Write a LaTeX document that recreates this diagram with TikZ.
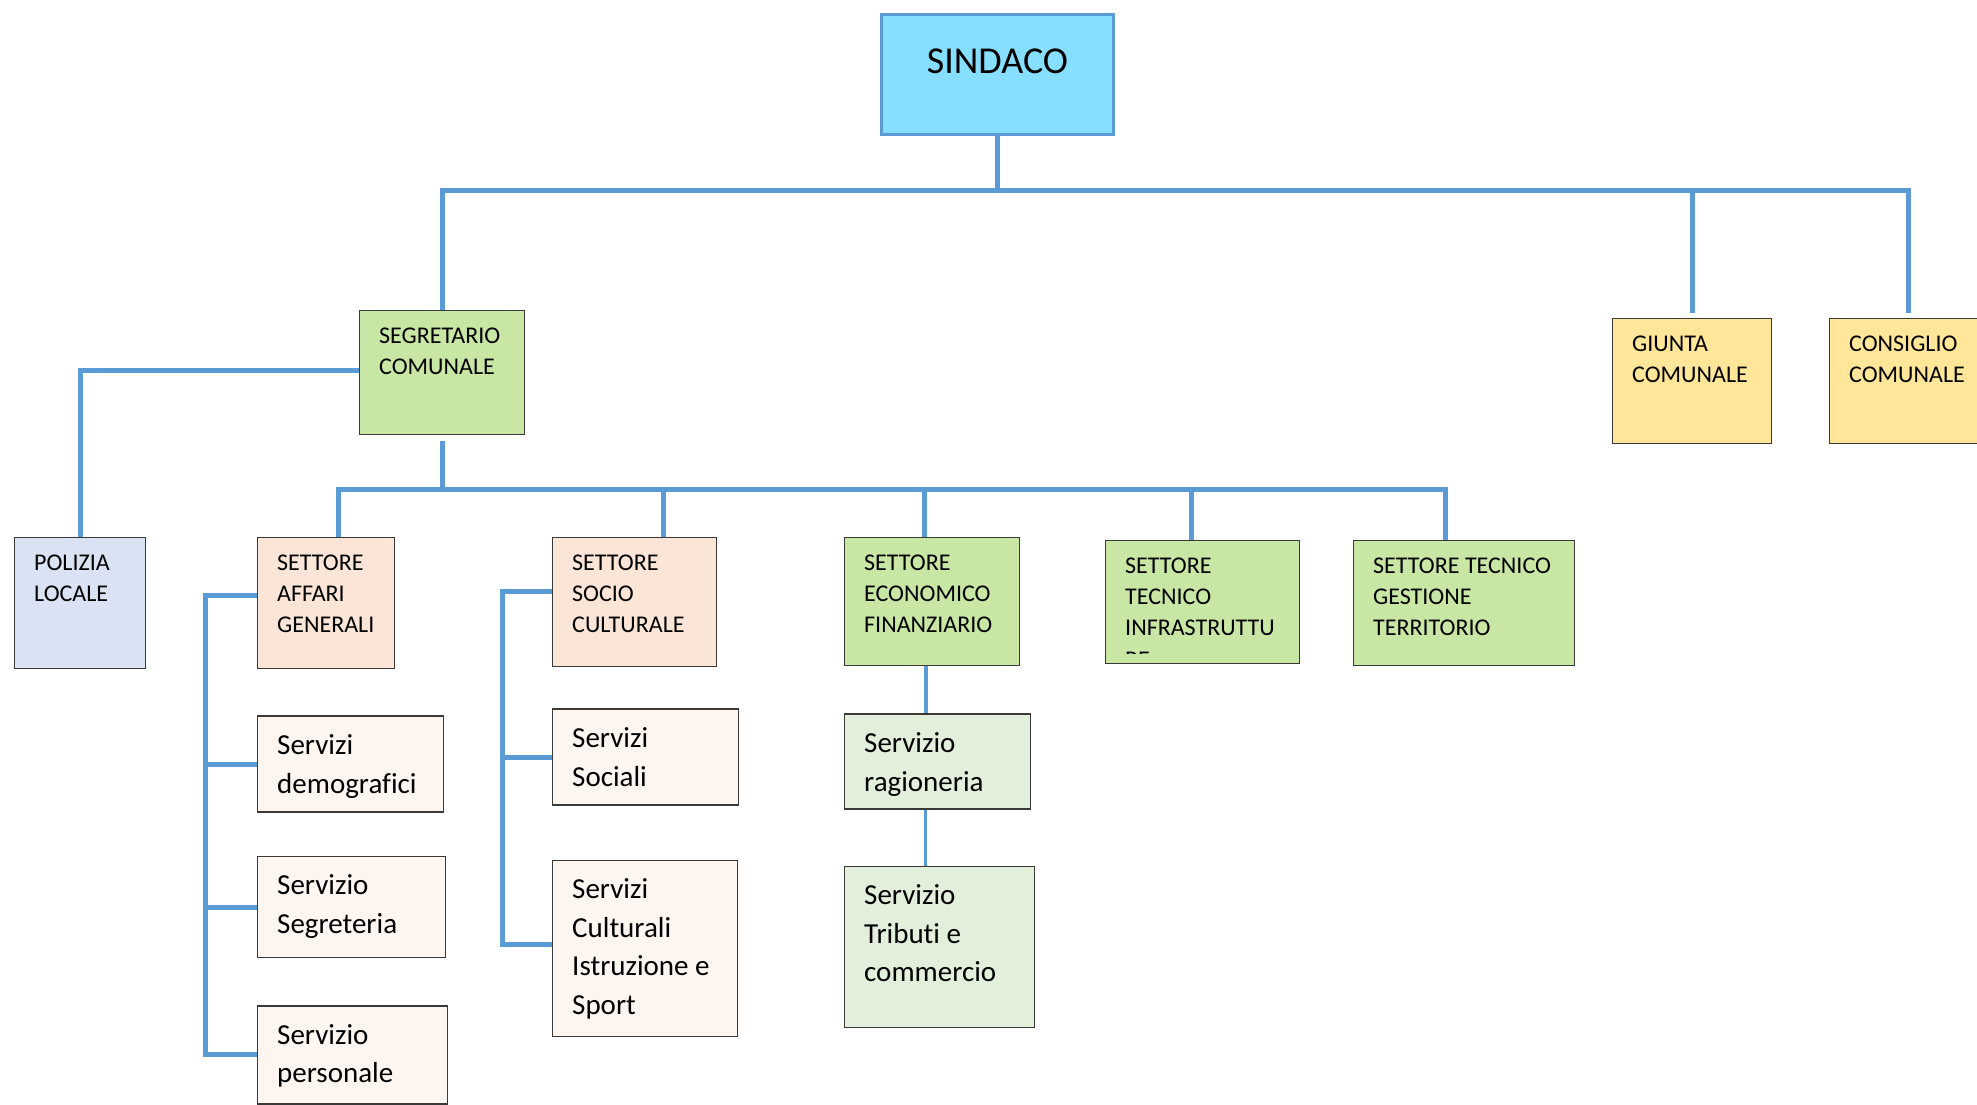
\documentclass[tikz,border=0pt]{standalone}
\usepackage{fontspec}
\setmainfont{Carlito}[Ligatures=NoCommon]
\usetikzlibrary{positioning}

\definecolor{linkblue}{HTML}{5B9BD5}
\definecolor{boxline}{HTML}{3A3A3A}
\definecolor{sindacofill}{HTML}{86DFFE}
\definecolor{settgreen}{HTML}{C8E6A4}
\definecolor{servgreen}{HTML}{E2EFDA}
\definecolor{settorange}{HTML}{FBE5D6}
\definecolor{servorange}{HTML}{FDF5EF}
\definecolor{polblue}{HTML}{DAE3F3}
\definecolor{organyellow}{HTML}{FFE699}

\begin{document}
\begin{tikzpicture}[x=1pt, y=-1pt,
    unit/.style={draw=boxline, line width=1.4pt, inner sep=0pt, anchor=north west},
    link/.style={draw=linkblue, line width=5pt},
    head/.style={font=\fontsize{24}{31}\selectfont, align=left, anchor=north west, inner xsep=20pt, inner ysep=18pt},
    serv/.style={font=\fontsize{29}{38.5}\selectfont, align=left, anchor=north west, inner xsep=20pt, inner ysep=19pt}]
    \useasboundingbox (0,0) rectangle (1977,1104);

    % top level
    \node[unit, draw=linkblue, line width=3pt, fill=sindacofill, minimum width=232pt, minimum height=120pt,
        label={[font=\fontsize{38}{44}\selectfont, anchor=north, inner ysep=36pt]north:SINDACO}] (sindaco) at (880,13) {};
    \node[unit, fill=settgreen, minimum width=165pt, minimum height=124pt,
        label={[head]north west:SEGRETARIO\\COMUNALE}] (seg) at (359,310) {};
    \node[unit, fill=organyellow, minimum width=159pt, minimum height=125pt,
        label={[head]north west:GIUNTA\\COMUNALE}] (giunta) at (1612,318) {};
    \node[unit, fill=organyellow, minimum width=158pt, minimum height=125pt,
        label={[head]north west:CONSIGLIO\\COMUNALE}] (consiglio) at (1829,318) {};

    % settori
    \node[unit, fill=polblue, minimum width=131pt, minimum height=131pt,
        label={[head]north west:POLIZIA\\LOCALE}] (polizia) at (14,537) {};
    \node[unit, fill=settorange, minimum width=137pt, minimum height=131pt,
        label={[head]north west:SETTORE\\AFFARI\\GENERALI}] (affari) at (257,537) {};
    \node[unit, fill=settorange, minimum width=164pt, minimum height=129pt,
        label={[head]north west:SETTORE\\SOCIO\\CULTURALE}] (socio) at (552,537) {};
    \node[unit, fill=settgreen, minimum width=175pt, minimum height=128pt,
        label={[head]north west:SETTORE\\ECONOMICO\\FINANZIARIO}] (economico) at (844,537) {};
    \node[unit, fill=settgreen, minimum width=194pt, minimum height=123pt,
        label={[head]north west:SETTORE\\TECNICO\\INFRASTRUTTU}] (tecinf) at (1105,540) {};
    \node[unit, fill=settgreen, minimum width=221pt, minimum height=125pt,
        label={[head]north west:SETTORE TECNICO\\GESTIONE\\TERRITORIO}] (gestione) at (1353,540) {};

    % last line of the cut text
    \begin{scope}
        \clip (tecinf.north west) rectangle ([yshift=11pt]tecinf.south east);
        \node[font=\fontsize{24}{31}\selectfont, anchor=base west, inner sep=0pt] (tecinfcut) at (1125,667) {RE};
    \end{scope}

    % servizi
    \node[unit, fill=servorange, minimum width=186pt, minimum height=96pt, below=46pt of affari.south west, anchor=north west,
        label={[serv]north west:Servizi\\demografici}] (demografici) {};
    \node[unit, fill=servorange, minimum width=188pt, minimum height=101pt, below=43pt of demografici.south west, anchor=north west,
        label={[serv]north west:Servizio\\Segreteria}] (segreteria) {};
    \node[unit, fill=servorange, minimum width=190pt, minimum height=98pt, below=47pt of segreteria.south west, anchor=north west,
        label={[serv]north west:Servizio\\personale}] (personale) {};
    \node[unit, fill=servorange, minimum width=186pt, minimum height=96pt, below=41pt of socio.south west, anchor=north west,
        label={[serv]north west:Servizi\\Sociali}] (sociali) {};
    \node[unit, fill=servorange, minimum width=185pt, minimum height=176pt, below=54pt of sociali.south west, anchor=north west,
        label={[serv]north west:Servizi\\Culturali\\Istruzione e\\Sport}] (culturali) {};
    \node[unit, fill=servgreen, minimum width=186pt, minimum height=95pt, below=47pt of economico.south west, anchor=north west,
        label={[serv]north west:Servizio\\ragioneria}] (ragioneria) {};
    \node[unit, fill=servgreen, minimum width=190pt, minimum height=161pt, below=56pt of ragioneria.south west, anchor=north west,
        label={[serv]north west:Servizio\\Tributi e\\commercio}] (tributi) {};

    % connectors
    \coordinate (bar1) at (0,190);
    \coordinate (bar2) at (0,489);
    \coordinate (bus1) at (205,0);
    \coordinate (bus2) at (502,0);

    \path[link] (sindaco.south) -- (sindaco.south |- bar1);
    \path[link, shorten >=5pt] (seg.north) |- (consiglio.north |- bar1) -- (consiglio.north);
    \path[link, shorten >=5pt] (giunta.north |- bar1) -- (giunta.north);

    \path[link] ([yshift=2pt]seg.west) -| (polizia.north);
    \path[link, shorten <=6pt] (seg.south) -- (seg.south |- bar2);
    \path[link] ([xshift=12pt]affari.north) |- ([xshift=-19pt]gestione.north |- bar2) -- ([xshift=-19pt]gestione.north);
    \path[link] ([xshift=29pt]socio.north |- bar2) -- ([xshift=29pt]socio.north);
    \path[link] ([xshift=-8pt]economico.north |- bar2) -- ([xshift=-8pt]economico.north);
    \path[link] ([xshift=-11pt]tecinf.north |- bar2) -- ([xshift=-11pt]tecinf.north);

    \path[link] ([yshift=8pt]affari.west) -| (bus1 |- personale.west) -- (personale.west);
    \foreach \s in {demografici, segreteria}
        \path[link] (bus1 |- \s.west) -- (\s.west);
    \path[link] ([yshift=11pt]socio.west) -| ([yshift=4pt]bus2 |- culturali.west) -- ([yshift=4pt]culturali.west);
    \path[link] (bus2 |- sociali.west) -- (sociali.west);

    \path[link, line width=3.5pt] ([xshift=-6pt]economico.south) -- ([xshift=-6pt]economico.south |- ragioneria.north);
    \path[link, line width=3.5pt] ([xshift=-12pt]ragioneria.south) -- ([xshift=-12pt]ragioneria.south |- tributi.north);
\end{tikzpicture}
\end{document}
